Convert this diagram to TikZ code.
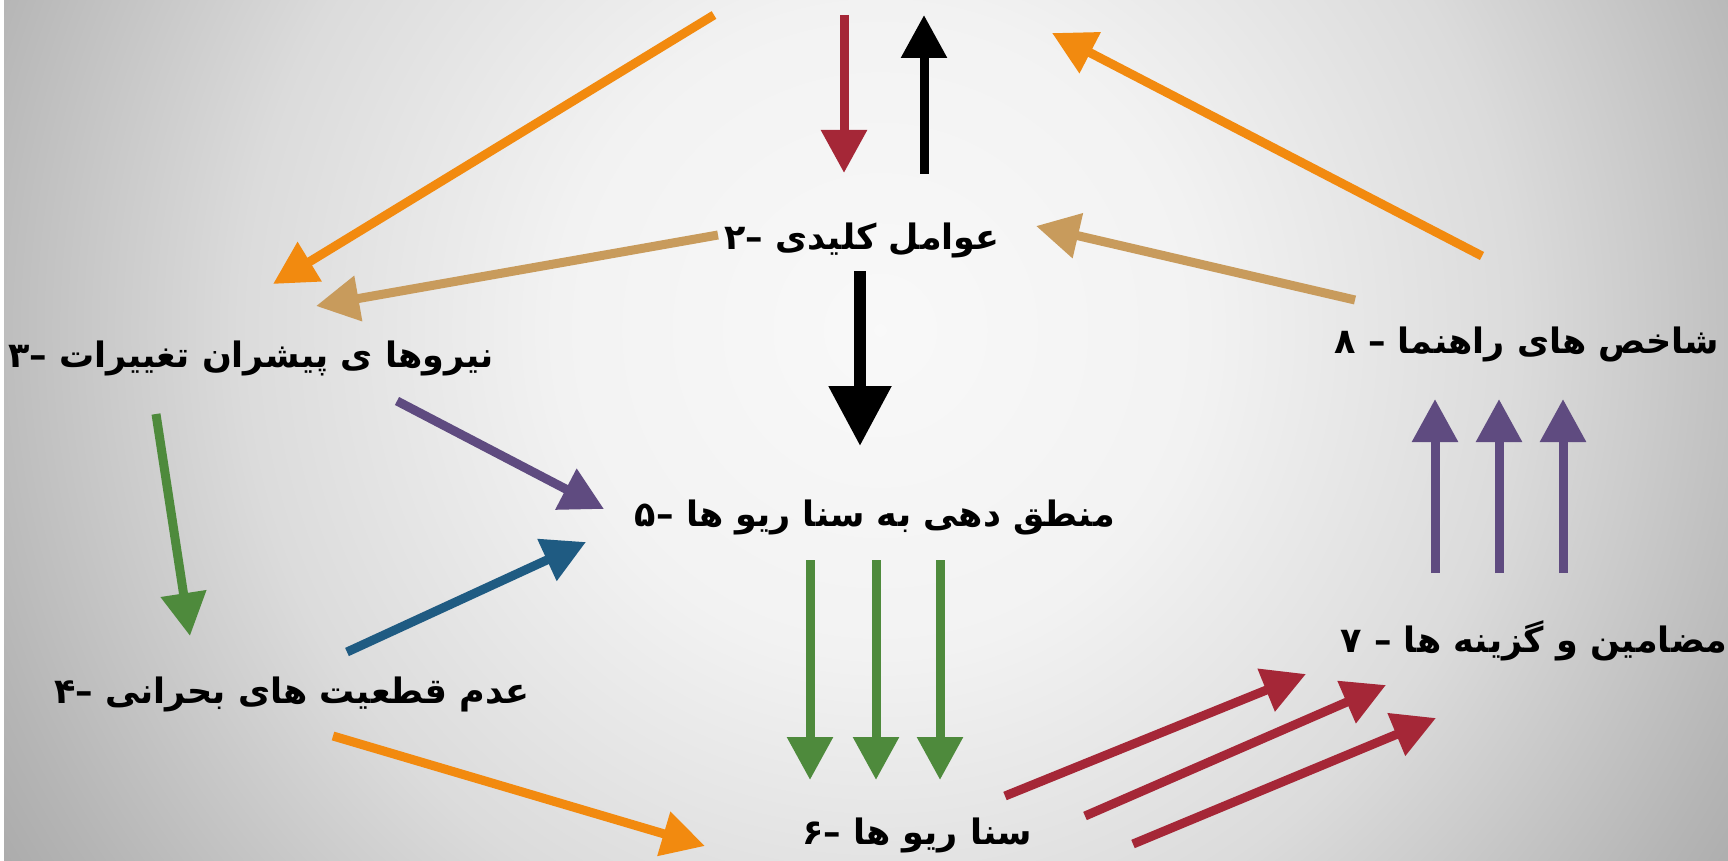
\documentclass[tikz,border=0pt]{standalone}
\usepackage{fontspec}
\newfontfamily\fa[Script=Arabic]{DejaVu Sans}
\TeXXeTstate=1
\usetikzlibrary{arrows.meta}
\definecolor{cOrange}{HTML}{F28A0F}
\definecolor{cTan}{HTML}{C89B5C}
\definecolor{cRed}{HTML}{A52737}
\definecolor{cPurple}{HTML}{5F4B80}
\definecolor{cBlue}{HTML}{1F5B82}
\definecolor{cGreen}{HTML}{4E8A3C}
\definecolor{g0}{gray}{0.975}
\definecolor{g1}{gray}{0.95}
\definecolor{g2}{gray}{0.86}
\definecolor{g3}{gray}{0.80}
\definecolor{g4}{gray}{0.71}
\definecolor{g5}{gray}{0.64}
\pgfdeclareradialshading{bgshade}{\pgfpoint{0bp}{0bp}}{color(0bp)=(g0); color(7.3bp)=(g1); color(14.5bp)=(g2); color(17.3bp)=(g3); color(21.4bp)=(g4); color(25bp)=(g5); color(50bp)=(g5)}
\tikzset{
  lbl/.style={inner sep=0pt, font=\fa\bfseries\fontsize{17.5pt}{21pt}\selectfont},
  arr/.style={line width=4.5pt, -{Triangle[length=21.5pt,width=22pt]}},
  bigarr/.style={line width=6pt, -{Triangle[length=30pt,width=30pt]}},
}
\begin{document}
\begin{tikzpicture}[x=0.5pt,y=-0.5pt]
\useasboundingbox (0,0) rectangle (1728,861);
\begin{scope}
\clip (0,0) rectangle (1728,861);
\shade[shading=bgshade] (880,330) circle (1100);
\fill[white] (0,0) rectangle (4,861);
\end{scope}

% text nodes
\node[lbl] (n2) at (862,240) {\beginR عوامل کلیدی –۲\endR};
\node[lbl] (n3) at (251,358) {\beginR نیروها ی پیشران تغییرات –۳\endR};
\node[lbl] (n4) at (292,694) {\beginR عدم قطعیت های بحرانی –۴\endR};
\node[lbl] (n5) at (875,518) {\beginR منطق دهی به سنا ریو ها –۵\endR};
\node[lbl] (n6) at (917,835) {\beginR سنا ریو ها –۶\endR};
\node[lbl] (n7) at (1534,641) {\beginR مضامین و گزینه ها – ۷\endR};
\node[lbl] (n8) at (1527,344) {\beginR شاخص های راهنما  – ۸\endR};

% arrow end points
\coordinate (rA) at (844,15);   \coordinate (rB) at (844,173);
\coordinate (kA) at (924,174);  \coordinate (kB) at (924,15);
\coordinate (bA) at (860,271);  \coordinate (bB) at (860,446);
\coordinate (o1A) at (714,15);  \coordinate (o1B) at (273,284);
\coordinate (o2A) at (1482,256); \coordinate (o2B) at (1052,33);
\coordinate (t1A) at (718,235); \coordinate (t1B) at (316,306);
\coordinate (t2A) at (1355,300); \coordinate (t2B) at (1036,226);
\coordinate (p1A) at (397,401); \coordinate (p1B) at (604,509);
\coordinate (blA) at (347,652); \coordinate (blB) at (586,542);
\coordinate (g1A) at (156,414); \coordinate (g1B) at (190,636);
\coordinate (o3A) at (333,736); \coordinate (o3B) at (705,846);

\draw[arr, cRed] (rA) -- (rB);
\draw[arr, black] (kA) -- (kB);
\draw[bigarr, black] (bA) -- (bB);
\draw[arr, cOrange] (o1A) -- (o1B);
\draw[arr, cOrange] (o2A) -- (o2B);
\draw[arr, cTan] (t1A) -- (t1B);
\draw[arr, cTan] (t2A) -- (t2B);
\draw[arr, cPurple] (p1A) -- (p1B);
\draw[arr, cBlue] (blA) -- (blB);
\draw[arr, cGreen] (g1A) -- (g1B);
\draw[arr, cOrange] (o3A) -- (o3B);

% green 5 -> 6
\foreach \x/\nm in {810/a,876/b,940/c}{
  \coordinate (gd\nm A) at (\x,560); \coordinate (gd\nm B) at (\x,780);
  \draw[arr, cGreen] (gd\nm A) -- (gd\nm B);
}
% purple 7 -> 8
\foreach \x/\nm in {1435/a,1499/b,1563/c}{
  \coordinate (pu\nm A) at (\x,573); \coordinate (pu\nm B) at (\x,399);
  \draw[arr, cPurple] (pu\nm A) -- (pu\nm B);
}
% red 6 -> 7
\coordinate (r1A) at (1005,796); \coordinate (r1B) at (1306,674);
\coordinate (r2A) at (1085,816); \coordinate (r2B) at (1386,685);
\coordinate (r3A) at (1133,844); \coordinate (r3B) at (1436,718);
\draw[arr, cRed] (r1A) -- (r1B);
\draw[arr, cRed] (r2A) -- (r2B);
\draw[arr, cRed] (r3A) -- (r3B);
\end{tikzpicture}
\end{document}
